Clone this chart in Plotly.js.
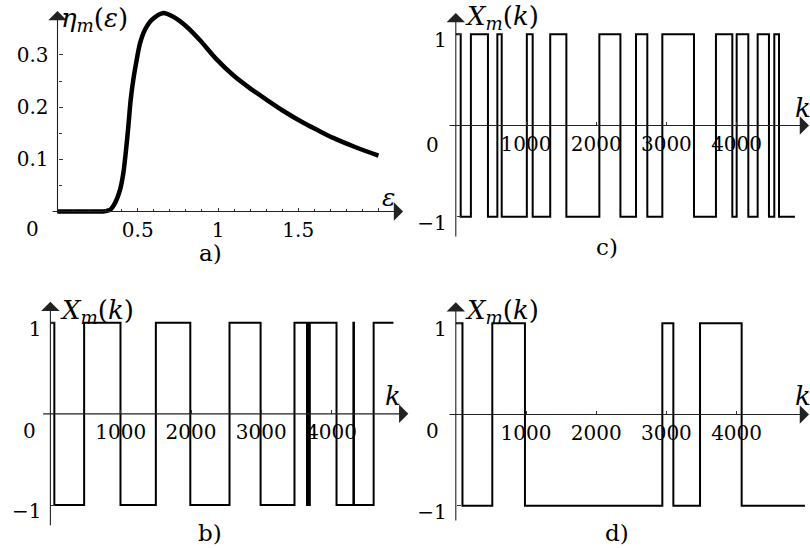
<!DOCTYPE html>
<html><head><meta charset="utf-8">
<script src="https://cdn.plot.ly/plotly-3.0.1.min.js"></script>
<style>html,body{margin:0;padding:0;background:#fff}</style>
</head><body><div id="chart" style="width:810px;height:548px"></div>
<script>
const W = 810, H = 548;
const FONT = 'DejaVu Serif';

// ---------- data ----------
// panel a) eta_m(epsilon)
const epsA = [0, 0.10, 0.20, 0.28, 0.327, 0.358, 0.389, 0.410, 0.427, 0.441, 0.456, 0.472, 0.493, 0.514, 0.545, 0.587, 0.655, 0.721, 0.805, 0.888, 0.99, 1.095, 1.20, 1.303, 1.40, 1.532, 1.62, 1.718, 1.85, 2.0];
const etaA = [0, 0, 0, 0, 0.003, 0.016, 0.041, 0.073, 0.118, 0.162, 0.214, 0.252, 0.290, 0.322, 0.348, 0.367, 0.380, 0.373, 0.354, 0.328, 0.292, 0.261, 0.236, 0.214, 0.194, 0.170, 0.156, 0.141, 0.124, 0.107];

// panel c) X_m(k)
const kC = [0, 70, 215, 458, 592, 654, 1012, 1095, 1345, 1575, 2045, 2345, 2567, 2728, 2942, 3393, 3706, 3939, 4001, 4167, 4300, 4461, 4537, 4604, 4832];
const xC = [1, -1, 1, -1, 1, -1, 1, -1, 1, -1, 1, -1, 1, -1, 1, -1, 1, -1, 1, -1, 1, -1, 1, -1, -1];

// panel b) X_m(k)
const kB = [0, 56, 480, 997, 1500, 1990, 2548, 2990, 3472, 3650, 3658, 3666, 3674, 3682, 3690, 4070, 4310, 4318, 4598, 4880];
const xB = [1, -1, 1, -1, 1, -1, 1, -1, 1, -1, 1, -1, 1, -1, 1, -1, 1, -1, 1, 1];

// panel d) X_m(k)
const kD = [0, 95, 520, 985, 2942, 3099, 3479, 4072, 4974];
const xD = [1, -1, 1, -1, 1, -1, 1, -1, -1];

// tick labels
const aXticks = [0.5, 1, 1.5, 2];
const aXtext = ['0.5', '1', '1.5', ''];
const aXminor = [0.1, 0.2, 0.3, 0.4, 0.6, 0.7, 0.8, 0.9, 1.1, 1.2, 1.3, 1.4, 1.6, 1.7, 1.8, 1.9];
const aYticks = [0.1, 0.2, 0.3];
const aYtext = ['0.1', '0.2', '0.3'];
const aYminor = [0.05, 0.15, 0.25];
const kTicks = [1000, 2000, 3000, 4000];
const kText = ['1000', '2000', '3000', '4000'];
const xmTicks = [-1, 1];
const xmText = ['\u22121', '1'];

// ---------- geometry (pixels) ----------
const P = {
  a: {xd: [40, 410], yd: [5, 245], ox: 57.5, oy: 211.5, sx: 160.5, sy: 522},
  c: {xd: [415, 810], yd: [5, 245], ox: 455.8, oy: 125.5, sx: 0.0702, sy: 91.2},
  b: {xd: [5, 410], yd: [290, 545], ox: 50.4, oy: 413.85, sx: 0.0703, sy: 91.15},
  d: {xd: [415, 810], yd: [290, 545], ox: 455.8, oy: 414.5, sx: 0.0702, sy: 91.2}
};
function xr(p) { return [(p.xd[0] - p.ox) / p.sx, (p.xd[1] - p.ox) / p.sx]; }
function yr(p) { return [(p.oy - p.yd[1]) / p.sy, (p.oy - p.yd[0]) / p.sy]; }

const tickFont = {family: FONT, size: 20, color: '#000'};
function xAxis(p, vals, text, minor) {
  const ax = {
    domain: [p.xd[0] / W, p.xd[1] / W], range: xr(p), anchor: 'free', position: 1 - p.oy / H,
    showline: false, showgrid: false, zeroline: false, ticks: 'inside', ticklen: 4, tickwidth: 1, tickcolor: '#333',
    tickmode: 'array', tickvals: vals, ticktext: text, tickfont: tickFont, ticklabelstandoff: 4
  };
  if (minor) ax.minor = {tickmode: 'array', tickvals: minor, ticks: 'inside', ticklen: 2.5, tickwidth: 1, tickcolor: '#333', showgrid: false};
  return ax;
}
function yAxis(p, vals, text, minor, shift) {
  const ax = {
    domain: [1 - p.yd[1] / H, 1 - p.yd[0] / H], range: yr(p), anchor: 'free', position: p.ox / W,
    showline: false, showgrid: false, zeroline: false, ticks: 'inside', ticklen: 4, tickwidth: 1, tickcolor: '#333',
    tickmode: 'array', tickvals: vals, ticktext: text, tickfont: tickFont, ticklabelstandoff: 9, ticklabelshift: shift || 0
  };
  if (minor) ax.minor = {tickmode: 'array', tickvals: minor, ticks: 'inside', ticklen: 3, tickwidth: 1, tickcolor: '#333', showgrid: false};
  return ax;
}

const stepLine = {color: '#000', width: 2, shape: 'hv'};
const data = [
  {x: epsA, y: etaA, xaxis: 'x', yaxis: 'y', mode: 'lines', line: {color: '#000', width: 4.5, shape: 'spline', smoothing: 0.8}, hoverinfo: 'skip'},
  {x: kC, y: xC, xaxis: 'x2', yaxis: 'y2', mode: 'lines', line: stepLine, hoverinfo: 'skip'},
  {x: kB, y: xB, xaxis: 'x3', yaxis: 'y3', mode: 'lines', line: stepLine, hoverinfo: 'skip'},
  {x: kD, y: xD, xaxis: 'x4', yaxis: 'y4', mode: 'lines', line: stepLine, hoverinfo: 'skip'}
];

// axis arrows (data coordinates of each panel)
function arrow(xref, yref, x, y, ax, ay) {
  return {xref: xref, yref: yref, axref: xref, ayref: yref, x: x, y: y, ax: ax, ay: ay, text: '', showarrow: true,
    arrowhead: 1, arrowsize: 2.8, arrowwidth: 1.1, arrowcolor: '#222', standoff: 0, startstandoff: 0};
}
function txt(x, y, t, xa, size) {
  return {xref: 'paper', yref: 'paper', x: x / W, y: 1 - y / H, text: t, showarrow: false, xanchor: xa || 'center', yanchor: 'middle',
    font: {family: FONT, size: size || 23, color: '#000'}};
}
const XM = '<i>X</i><sub><i>m</i></sub>(<i>k</i>)';
const annotations = [
  arrow('x', 'y', 2.153, 0, -0.04, 0),
  arrow('x', 'y', 0, 0.384, 0, -0.006),
  arrow('x2', 'y2', 5031, 0, -111, 0),
  arrow('x2', 'y2', 0, 1.234, 0, -1.234),
  arrow('x3', 'y3', 5091, 0, -124, 0),
  arrow('x3', 'y3', 0, 1.23, 0, -1.238),
  arrow('x4', 'y4', 5031, 0, -111, 0),
  arrow('x4', 'y4', 0, 1.23, 0, -1.18),
  txt(59, 20, '<i>η</i><sub><i>m</i></sub>(<i>ε</i>)', 'left', 26),
  txt(388, 197, '<i>ε</i>', 'center', 25),
  txt(32, 229, '0', 'center', 20),
  txt(210, 253, 'a)'),
  txt(463, 17, XM, 'left', 26),
  txt(803, 108, '<i>k</i>', 'center', 26),
  txt(432, 145, '0', 'center', 20),
  txt(607, 247, 'c)'),
  txt(58, 311, XM, 'left', 26),
  txt(393, 396, '<i>k</i>', 'center', 26),
  txt(29, 431, '0', 'center', 20),
  txt(210, 533, 'b)'),
  txt(463, 311, XM, 'left', 26),
  txt(803, 396, '<i>k</i>', 'center', 26),
  txt(432, 431, '0', 'center', 20),
  txt(617, 533, 'd)')
];

const layout = {
  width: W, height: H, margin: {l: 0, r: 0, t: 0, b: 0}, paper_bgcolor: '#fff', plot_bgcolor: 'rgba(0,0,0,0)',
  showlegend: false, font: {family: FONT, color: '#000', size: 20},
  xaxis: xAxis(P.a, aXticks, aXtext, aXminor),
  yaxis: yAxis(P.a, aYticks, aYtext, aYminor, 0),
  xaxis2: xAxis(P.c, kTicks, kText),
  yaxis2: yAxis(P.c, xmTicks, xmText, null, 6),
  xaxis3: xAxis(P.b, kTicks, kText),
  yaxis3: yAxis(P.b, xmTicks, xmText, null, 6),
  xaxis4: xAxis(P.d, kTicks, kText),
  yaxis4: yAxis(P.d, xmTicks, xmText, null, 6),
  annotations: annotations
};
Plotly.newPlot('chart', data, layout, {staticPlot: true, displayModeBar: false});
</script>
</body></html>
